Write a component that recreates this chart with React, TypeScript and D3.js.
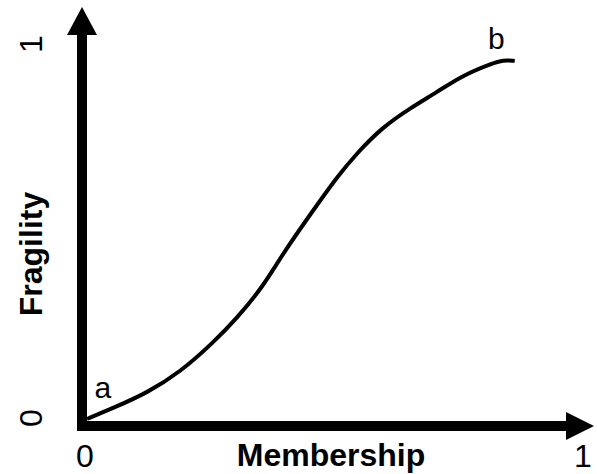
import { useEffect, useRef } from "react";
import * as d3 from "d3";

// curve (membership -> fragility)
const membership = [0, 0.052, 0.12, 0.187, 0.253, 0.301, 0.353, 0.394, 0.462, 0.502, 0.542, 0.594, 0.649, 0.703, 0.755, 0.815, 0.835, 0.859];
const fragility = [0, 0.029, 0.069, 0.125, 0.203, 0.269, 0.352, 0.443, 0.571, 0.645, 0.709, 0.779, 0.829, 0.872, 0.917, 0.949, 0.957, 0.955];
const xTicks = ["0", "1"];
const yTicks = ["0", "1"];
const pointLabels = [
    { name: "a", x: 0.015, y: 0.07 },
    { name: "b", x: 0.805, y: 1.0 },
];

const App = () => {
    const svgRef = useRef<SVGSVGElement>(null);

    useEffect(() => {
        const width = 597;
        const height = 474;
        const font = "'Liberation Sans', Arial, sans-serif";

        const svg = d3.select(svgRef.current);
        svg.selectAll("*").remove();

        const xScale = d3.scaleLinear().domain([0, 1]).range([87, 585]);
        const yScale = d3.scaleLinear().domain([0, 1]).range([419, 44]);

        const axisX = 82;
        const axisY = 426;

        // Axes with arrowheads
        svg.append("line")
            .attr("x1", axisX)
            .attr("x2", axisX)
            .attr("y1", axisY + 5)
            .attr("y2", 35)
            .attr("stroke", "black")
            .attr("stroke-width", 10);
        svg.append("path")
            .attr("d", `M${axisX},7 L${axisX - 15},35 L${axisX + 15},35 Z`)
            .attr("fill", "black");

        svg.append("line")
            .attr("x1", axisX - 5)
            .attr("x2", 566)
            .attr("y1", axisY)
            .attr("y2", axisY)
            .attr("stroke", "black")
            .attr("stroke-width", 10);
        svg.append("path")
            .attr("d", `M594,${axisY} L566,${axisY - 14} L566,${axisY + 14} Z`)
            .attr("fill", "black");

        // Curve
        const data = membership.map((m, i) => ({ x: m, y: fragility[i] }));
        const line = d3
            .line<{ x: number; y: number }>()
            .x((d) => xScale(d.x))
            .y((d) => yScale(d.y))
            .curve(d3.curveBasis);
        svg.append("path")
            .datum(data)
            .attr("d", line)
            .attr("fill", "none")
            .attr("stroke", "black")
            .attr("stroke-width", 4);

        // Tick labels
        svg.selectAll(".xtick")
            .data(xTicks)
            .enter()
            .append("text")
            .attr("x", (d) => xScale(+d) - 2)
            .attr("y", 467)
            .attr("text-anchor", "middle")
            .attr("font-family", font)
            .attr("font-size", 32)
            .text((d) => d);

        svg.selectAll(".ytick")
            .data(yTicks)
            .enter()
            .append("text")
            .attr("transform", (d) => `translate(42,${+d === 0 ? 418 : yScale(+d)}) rotate(-90)`)
            .attr("text-anchor", "middle")
            .attr("font-family", font)
            .attr("font-size", 32)
            .text((d) => d);

        // Axis titles
        svg.append("text")
            .attr("x", 331)
            .attr("y", 466)
            .attr("text-anchor", "middle")
            .attr("font-family", font)
            .attr("font-weight", "bold")
            .attr("font-size", 32)
            .text("Membership");

        svg.append("text")
            .attr("transform", `translate(42,254) rotate(-90)`)
            .attr("text-anchor", "middle")
            .attr("font-family", font)
            .attr("font-weight", "bold")
            .attr("font-size", 32)
            .text("Fragility");

        // Point labels
        svg.selectAll(".plabel")
            .data(pointLabels)
            .enter()
            .append("text")
            .attr("x", (d) => xScale(d.x))
            .attr("y", (d) => yScale(d.y) + 5)
            .attr("font-family", font)
            .attr("font-size", 30)
            .text((d) => d.name);

        svg.attr("width", width).attr("height", height);
    }, []);

    return (
        <svg
            ref={svgRef}
            width={597}
            height={474}
            style={{ position: "absolute", left: 0, top: 0, background: "white" }}
        ></svg>
    );
};

export default App;
